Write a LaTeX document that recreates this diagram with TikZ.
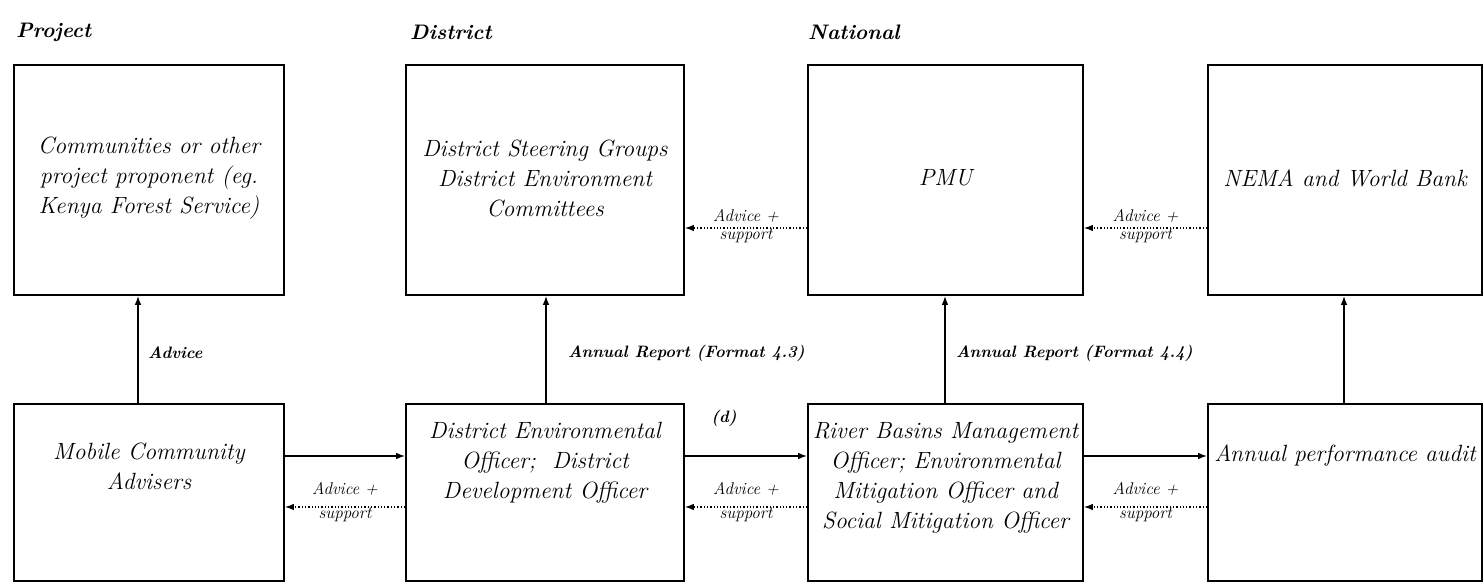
\documentclass[tikz,border=0pt]{standalone}
\usetikzlibrary{arrows.meta}
\begin{document}
\begin{tikzpicture}[x=1pt,y=-1pt,
  box/.style={draw, line width=1.6pt, inner sep=0pt},
  boxtxt/.style={font=\fontsize{23.5}{30}\selectfont\itshape, align=center, inner sep=0pt},
  head/.style={font=\fontsize{21}{25}\selectfont\bfseries\itshape, anchor=west, inner sep=0pt},
  lbl/.style={font=\fontsize{17}{20}\selectfont\itshape, inner sep=0pt},
  lblb/.style={font=\fontsize{16.5}{20}\selectfont\bfseries\itshape, inner sep=0pt},
  flow/.style={line width=1.4pt, -{Latex[length=9pt,width=6.5pt]}},
  back/.style={line width=1.3pt, dotted, -{Latex[length=9pt,width=6.5pt]}}]
\useasboundingbox (0,0) rectangle (1484,586);

% column headings
\node[head] (hproj) at (16,32) {Project};
\node[head] (hdist) at (410,32) {District};
\node[head] (hnat)  at (808,32) {National};

% upper row of boxes
\node[box, minimum width=270pt, minimum height=230pt] (comm) at (149,180) {};
\node[box, minimum width=278pt, minimum height=230pt] (dsg)  at (545,180) {};
\node[box, minimum width=275pt, minimum height=230pt] (pmu)  at (945.5,180) {};
\node[box, minimum width=274pt, minimum height=230pt] (nema) at (1345,180) {};

\node[boxtxt] (commt) at (149,178) {Communities or other\\project proponent (eg.\\Kenya Forest Service)};
\node[boxtxt] (dsgt)  at (545,178) {District Steering Groups\\District Environment\\Committees};
\node[boxtxt] (pmut)  at (945.5,178) {PMU};
\node[boxtxt] (nemat) at (1345,178) {NEMA and World Bank};

% lower row of boxes
\node[box, minimum width=270pt, minimum height=177pt] (mob)  at (149,492.5) {};
\node[box, minimum width=278pt, minimum height=177pt] (denv) at (545,492.5) {};
\node[box, minimum width=275pt, minimum height=177pt] (rbm)  at (945.5,492.5) {};
\node[box, minimum width=274pt, minimum height=177pt] (apa)  at (1345,492.5) {};

\node[boxtxt] (mobt)  at (149,466) {Mobile Community\\Advisers};
\node[boxtxt] (denvt) at (545,463) {District Environmental\\Officer;\ \ District\\Development Officer};
\node[boxtxt] (rbmt)  at (945.5,478) {River Basins Management\\Officer; Environmental\\Mitigation Officer and\\Social Mitigation Officer};
\node[boxtxt] (apat)  at (1345,456) {Annual performance audit};

% upward reporting lines
\draw[flow] ([xshift=-11pt]mob.north) -- ([xshift=-11pt]comm.south);
\draw[flow] ([xshift=1pt]denv.north) -- ([xshift=1pt]dsg.south);
\draw[flow] ([xshift=-0.5pt]rbm.north) -- ([xshift=-0.5pt]pmu.south);
\draw[flow] ([xshift=-1pt]apa.north) -- ([xshift=-1pt]nema.south);

\node[lblb, anchor=west] (ladv) at (148,353) {Advice};
\node[lblb, anchor=west] (lar3) at (568,353) {Annual Report (Format 4.3)};
\node[lblb, anchor=west] (lar4) at (956,353) {Annual Report (Format 4.4)};
\node[lblb] (dmark) at (724,418) {(d)};

% forward flow along the lower row
\draw[flow] ([yshift=36.5pt]mob.east) -- ([yshift=36.5pt]denv.west);
\draw[flow] ([yshift=36.5pt]denv.east) -- ([yshift=36.5pt]rbm.west);
\draw[flow] ([yshift=36.5pt]rbm.east) -- ([yshift=36.5pt]apa.west);

% advice and support, lower row
\draw[back] ([yshift=-14.5pt]denv.west) -- ([yshift=-14.5pt]mob.east)
  node[lbl, midway, above=11pt] (s1a) {Advice +}
  node[lbl, midway, below=0pt] (s1b) {support};
\draw[back] ([yshift=-14.5pt]rbm.west) -- ([yshift=-14.5pt]denv.east)
  node[lbl, midway, above=11pt] (s2a) {Advice +}
  node[lbl, midway, below=0pt] (s2b) {support};
\draw[back] ([yshift=-14.5pt]apa.west) -- ([yshift=-14.5pt]rbm.east)
  node[lbl, midway, above=11pt] (s3a) {Advice +}
  node[lbl, midway, below=0pt] (s3b) {support};

% advice and support, upper row
\draw[back] ([yshift=-48pt]pmu.west) -- ([yshift=-48pt]dsg.east)
  node[lbl, midway, above=5pt] (t1a) {Advice +}
  node[lbl, midway, below=0pt] (t1b) {support};
\draw[back] ([yshift=-48pt]nema.west) -- ([yshift=-48pt]pmu.east)
  node[lbl, midway, above=5pt] (t2a) {Advice +}
  node[lbl, midway, below=0pt] (t2b) {support};
\end{tikzpicture}
\end{document}
